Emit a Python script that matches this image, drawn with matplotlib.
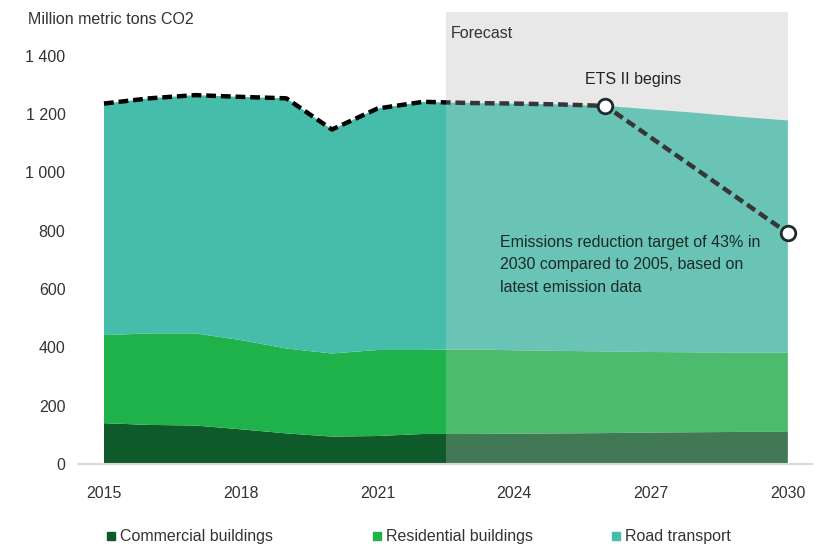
import matplotlib.pyplot as plt
from matplotlib.lines import Line2D
from matplotlib.ticker import FuncFormatter

# data (million metric tons CO2)
years = [2015, 2016, 2017, 2018, 2019, 2020, 2021, 2022,
         2023, 2024, 2025, 2026, 2027, 2028, 2029, 2030]
commercial = [140, 134, 132, 119, 105, 94, 96, 103,
              103, 104, 105, 106, 108, 109, 110, 110]
residential = [302, 314, 316, 306, 291, 285, 295, 288,
               290, 286, 283, 280, 276, 274, 272, 272]
road = [794, 806, 817, 834, 858, 768, 828, 851,
        845, 846, 845, 842, 832, 821, 808, 796]

forecast_start = 2022.5
ets_year = 2026
target_year = 2030
target_value = 792

labels = ["Commercial buildings", "Residential buildings", "Road transport"]
colors = ["#0f5a2a", "#1fb24a", "#45bdaa"]

plt.rcParams["font.family"] = ["Liberation Sans", "DejaVu Sans"]
plt.rcParams["font.size"] = 11.5

fig = plt.figure(figsize=(8.28, 5.5), dpi=100)
ax = fig.add_axes([78 / 828, 1 - 464 / 550, (812 - 78) / 828, 452 / 550])

# forecast background
ax.axvspan(forecast_start, years[-1], color="#eeeeee", lw=0, zorder=0)

ax.stackplot(years, commercial, residential, road, colors=colors, lw=0, zorder=1)

total = [c + r + t for c, r, t in zip(commercial, residential, road)]
path_x = [y for y in years if y <= ets_year] + [target_year]
path_y = [v for y, v in zip(years, total) if y <= ets_year] + [target_value]
ax.plot(path_x, path_y, color="black", lw=3.2, dashes=(2.2, 1.1),
        dash_capstyle="butt", zorder=2)

# grey veil over the forecast years
ax.axvspan(forecast_start, years[-1], color="#d9d9d9", alpha=0.25, lw=0, zorder=3)

ets_value = total[years.index(ets_year)]
ax.plot([ets_year, target_year], [ets_value, target_value], "o", ms=10.5,
        mfc="white", mec="#1e2b28", mew=2, ls="none", zorder=4)

ax.text(forecast_start + 0.1, 1475, "Forecast", ha="left", va="center",
        color="#333333", zorder=5)
ax.text(ets_year + 0.6, 1320, "ETS II begins", ha="center", va="center",
        color="#222222", zorder=5)
ax.text(2023.68, 787, "Emissions reduction target of 43% in\n"
        "2030 compared to 2005, based on\nlatest emission data",
        ha="left", va="top", color="#1c2a27", linespacing=1.65, zorder=5)

ax.set_xlim(2014.43, 2030.53)
ax.set_ylim(0, 1550)
ax.set_xticks([2015, 2018, 2021, 2024, 2027, 2030])
ax.set_yticks(range(0, 1401, 200))
ax.yaxis.set_major_formatter(FuncFormatter(lambda v, p: f"{int(v):,}".replace(",", " ")))
ax.tick_params(length=0, colors="#333333", labelsize=11.5)
ax.tick_params(axis="x", pad=16)
ax.tick_params(axis="y", pad=9)
for s in ["top", "right", "left"]:
    ax.spines[s].set_visible(False)
ax.spines["bottom"].set_color("#d9d9d9")
ax.spines["bottom"].set_linewidth(1.5)
ax.set_facecolor("white")

fig.text(28 / 828, 1 - 20 / 550, "Million metric tons CO2", ha="left",
         va="center", color="#333333", fontsize=11.5)

# one legend per entry, placed like the original
legend_x = [106, 372, 611]
for c, lab, lx in zip(colors, labels, legend_x):
    h = Line2D([], [], marker="s", ms=6, ls="none", color=c)
    fig.legend([h], [lab], loc="center left", bbox_to_anchor=(lx / 828, 1 - 537 / 550),
               frameon=False, handlelength=0.6, handletextpad=0.25,
               borderpad=0, borderaxespad=0, fontsize=11.5, labelcolor="#333333")

plt.savefig("out.png", dpi=100)
